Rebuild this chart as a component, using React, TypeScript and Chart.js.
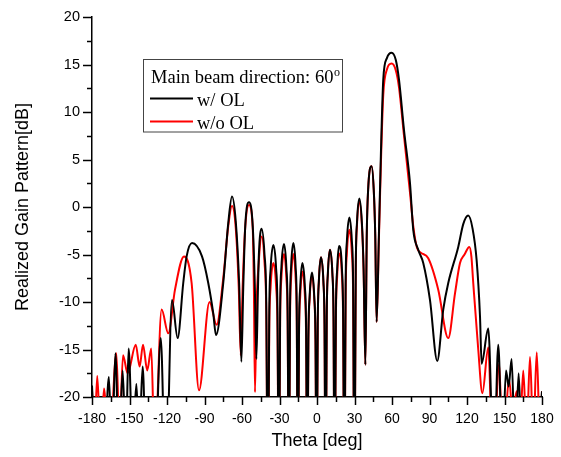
import React, { useEffect, useRef } from "react";
import { Chart, registerables } from "chart.js";

Chart.register(...registerables);

// Theta (deg) / realized gain (dB) samples
const withOL: [number, number][] = [
  [-180, -18.8], [-176.5, -28], [-170, -26], [-166.5, -17.9], [-164, -26], [-161.3, -15.4],
  [-158.5, -26], [-155.5, -17.2], [-153, -25], [-150.7, -14.9], [-147.5, -25], [-144.5, -18.6],
  [-142.3, -25], [-139.5, -16.8], [-136.5, -27], [-133, -21], [-130, -28], [-125, -13.8],
  [-121, -30], [-116, -9.8], [-111.5, -13.8], [-107, -8], [-104.3, -5.2], [-100, -3.8],
  [-92, -5.2], [-87, -8], [-83, -11.2], [-80.8, -13.5], [-75, -8], [-71, -1.7], [-68, 1.1],
  [-65, -1.5], [-62.3, -8], [-60.5, -16.3], [-59, -8.5], [-57.4, -2], [-54.4, 0.5], [-51.4, -2],
  [-49.8, -8], [-48.5, -16], [-47.3, -9], [-46.5, -5], [-44.3, -2.3], [-42, -5], [-40.6, -10],
  [-39.3, -32], [-38.2, -11], [-37.1, -6.5], [-34.9, -4.0], [-32.7, -6.5], [-31.6, -11],
  [-30.5, -32], [-29.5, -10.9], [-28.5, -6.4], [-26.4, -3.9], [-24.5, -6.4], [-23.5, -10.9],
  [-22.5, -32], [-21.6, -10.8], [-20.7, -6.3], [-18.9, -3.8], [-17.1, -6.3], [-16.2, -10.8],
  [-15.3, -32], [-14.4, -12.9], [-13.4, -8.4], [-11.7, -5.9], [-9.7, -8.4], [-8.7, -12.9],
  [-7.8, -32], [-6.9, -13.9], [-5.9, -9.4], [-4, -6.9], [-2.2, -9.4], [-1.2, -13.9],
  [-0.3, -32], [0.6, -12.3], [1.5, -7.8], [3.2, -5.3], [5.1, -7.8], [6.0, -12.3],
  [6.9, -32], [7.8, -11.5], [8.7, -7], [10.4, -4.5], [12.3, -7], [13.2, -11.5],
  [14.1, -32], [15.1, -11.1], [16.1, -6.6], [17.6, -4.1], [20.0, -6.6], [20.9, -11.1],
  [21.9, -32], [22.9, -8.1], [23.9, -3.6], [25.9, -1.1], [27.9, -3.6], [28.9, -8.1],
  [29.9, -32], [31, -6.5], [32, -1.6], [33.9, 0.9], [35.9, -1.6], [37.3, -6.5],
  [38.7, -16.6], [39.8, -3], [40.9, 1.8], [43.7, 4.3], [45.4, 1.8], [46.6, -3], [47.7, -12.1],
  [49.5, -3], [51, 5], [53, 13.4], [56, 15.7], [59.7, 16.25], [63, 15.5], [65.6, 13.4],
  [69.6, 8.1], [74.4, 2.5], [77, -2.4], [81, -4.5], [85, -5.9], [90.4, -9.8], [96.2, -16.2],
  [101, -10.8], [105, -8], [113, -4.2], [117, -1.8], [121, -0.9], [124.5, -2.3], [127.7, -5.6],
  [130.4, -11.5], [131.7, -16.5], [137, -12.8], [141.5, -28], [145, -14.5], [148.3, -26],
  [151.2, -17.2], [153.3, -18.9], [155.7, -16], [158.5, -26], [161.3, -17.5], [164, -26],
  [170, -24], [176, -27], [180, -19.4],
];

const withoutOL: [number, number][] = [
  [-180, -19.3], [-178, -24], [-175.8, -17.8], [-173, -25], [-170.4, -19.1], [-166.5, -27],
  [-160.5, -15.4], [-158, -24], [-155.2, -15.6], [-151.5, -17.5], [-145, -14.5], [-141.9, -16.8],
  [-139.2, -14.5], [-135.8, -17.2], [-132.6, -14.9], [-129.9, -26], [-124.3, -10.8], [-119, -13.3],
  [-113.6, -8.7], [-106.4, -5.2], [-100.3, -8], [-94.4, -19.3], [-86, -10], [-80.3, -12.4],
  [-75, -7.5], [-71, -2], [-68, 0.1], [-65, -2.2], [-62.6, -8.5], [-61, -15.6], [-59.5, -8.5],
  [-57.5, -2.3], [-54.4, 0.2], [-51.4, -2.3], [-50.5, -8.5], [-49.6, -19.5], [-48.5, -11],
  [-46.6, -5.8], [-44.3, -3.1], [-42, -5.8], [-40.6, -11],
  [-39.3, -32], [-38.2, -12.9], [-37.1, -8.4], [-34.9, -5.9], [-32.7, -8.4], [-31.6, -12.9],
  [-30.5, -32], [-29.5, -12], [-28.5, -7.5], [-26.4, -4.95], [-24.5, -7.5], [-23.5, -12],
  [-22.5, -32], [-21.6, -12], [-20.7, -7.5], [-18.9, -4.95], [-17.1, -7.5], [-16.2, -12],
  [-15.3, -32], [-14.4, -13.8], [-13.4, -9.3], [-11.7, -6.8], [-9.7, -9.3], [-8.7, -13.8],
  [-7.8, -32], [-6.9, -14.2], [-5.9, -9.7], [-4, -7.2], [-2.2, -9.7], [-1.2, -14.2],
  [-0.3, -32], [0.6, -12.3], [1.5, -7.8], [3.2, -5.3], [5.1, -7.8], [6.0, -12.3],
  [6.9, -32], [7.8, -11.5], [8.7, -7], [10.4, -4.5], [12.3, -7], [13.2, -11.5],
  [14.1, -32], [15.1, -11.9], [16.1, -7.4], [17.6, -4.9], [20.0, -7.4], [20.9, -11.9],
  [21.9, -32], [22.9, -9.4], [23.9, -4.9], [25.9, -2.4], [27.9, -4.9], [28.9, -9.4],
  [29.9, -32], [31, -6.8], [32, -1.9], [33.9, 0.6], [35.9, -1.9], [37.3, -6.8],
  [38.7, -16.6], [39.8, -3], [40.9, 1.8], [43.7, 4.3], [45.4, 1.8], [46.6, -3], [47.7, -12.1],
  [49.5, -3.5], [51, 4], [53, 11.8], [56, 14.5], [59.7, 15.1], [63, 14.4], [65.6, 12.6],
  [69.6, 7.5], [74.4, 1.5], [77, -2], [80, -4.3], [83, -4.8], [89, -5.4], [97, -8.7],
  [105, -13.8], [110.4, -9.1], [114.4, -5.9], [118, -5.0], [121.9, -4.2], [123.5, -5.2],
  [125, -8], [129, -15], [132.3, -19.6], [137, -14.8], [140.7, -27], [145.8, -16.5],
  [148.5, -26], [153.8, -18.2], [156.5, -22], [159.7, -19.4], [162.3, -24], [165, -17.2],
  [167.7, -24], [170.4, -15.8], [173, -24], [175.8, -15.3], [178.5, -25], [180, -19.4],
];

const seriesLabels = ["w/ OL", "w/o OL"];
const seriesColors = ["#000000", "#ff0000"];
const legendTitle = "Main beam direction: 60";
const legendSuperscript = "o";
const xTitle = "Theta [deg]";
const yTitle = "Realized Gain Pattern[dB]";
const xRange = [-180, 180];
const yRange = [-20, 20];

export default function App() {
  const ref = useRef<HTMLCanvasElement>(null);

  useEffect(() => {
    const canvas = ref.current;
    if (!canvas) return;

    const decor = {
      id: "decor",
      afterDraw(chart: any) {
        const ctx = chart.ctx as CanvasRenderingContext2D;
        const xs = chart.scales.x;
        const ys = chart.scales.y;
        const area = chart.chartArea;
        ctx.save();
        ctx.strokeStyle = "#000";
        ctx.lineWidth = 1.5;
        for (let v = xRange[0]; v <= xRange[1]; v += 15) {
          const px = Math.round(xs.getPixelForValue(v)) + 0.5;
          const len = v % 30 === 0 ? 8 : 5;
          ctx.beginPath();
          ctx.moveTo(px, area.bottom);
          ctx.lineTo(px, area.bottom + len);
          ctx.stroke();
        }
        for (let v = yRange[0]; v <= yRange[1]; v += 2.5) {
          const py = Math.round(ys.getPixelForValue(v)) + 0.5;
          const len = v % 5 === 0 ? 9 : 5;
          ctx.beginPath();
          ctx.moveTo(area.left, py);
          ctx.lineTo(area.left - len, py);
          ctx.stroke();
        }
        const bx = 143.5, by = 59.5, bw = 199, bh = 72.5;
        ctx.fillStyle = "#fff";
        ctx.fillRect(bx, by, bw, bh);
        ctx.strokeStyle = "#444";
        ctx.lineWidth = 1;
        ctx.strokeRect(bx, by, bw, bh);
        ctx.fillStyle = "#000";
        ctx.textBaseline = "alphabetic";
        ctx.textAlign = "left";
        ctx.font = '18.5px "Liberation Serif", "Times New Roman", serif';
        ctx.fillText(legendTitle, 151, 83);
        const tw = ctx.measureText(legendTitle).width;
        ctx.font = '12px "Liberation Serif", "Times New Roman", serif';
        ctx.fillText(legendSuperscript, 151 + tw + 0.5, 76);
        ctx.font = '18.5px "Liberation Serif", "Times New Roman", serif';
        const rows = [98.5, 121.5];
        rows.forEach((ry, i) => {
          ctx.strokeStyle = seriesColors[i];
          ctx.lineWidth = 2;
          ctx.beginPath();
          ctx.moveTo(150, ry);
          ctx.lineTo(193, ry);
          ctx.stroke();
          ctx.fillStyle = "#000";
          ctx.fillText(seriesLabels[i], 197, ry + 7.5);
        });
        ctx.restore();
      },
    };

    const mk = (pts: [number, number][]) => pts.map(([x, y]) => ({ x, y }));

    const chart = new Chart(canvas, {
      type: "line",
      data: {
        datasets: [
          {
            label: seriesLabels[0],
            data: mk(withOL),
            borderColor: seriesColors[0],
            borderWidth: 2,
            pointRadius: 0,
            cubicInterpolationMode: "monotone",
            clip: 0,
          },
          {
            label: seriesLabels[1],
            data: mk(withoutOL),
            borderColor: seriesColors[1],
            borderWidth: 2,
            pointRadius: 0,
            cubicInterpolationMode: "monotone",
            clip: 0,
          },
        ],
      },
      options: {
        responsive: false,
        animation: false,
        events: [],
        layout: { padding: { top: 17, right: 19, bottom: 0, left: 0 } },
        plugins: { legend: { display: false }, tooltip: { enabled: false } },
        scales: {
          x: {
            type: "linear",
            min: xRange[0],
            max: xRange[1],
            grid: { display: false },
            border: { display: true, color: "#000", width: 1.5 },
            ticks: {
              stepSize: 30,
              autoSkip: false,
              maxRotation: 0,
              padding: 6,
              color: "#000",
              font: { family: '"Liberation Sans", Arial, sans-serif', size: 14 },
            },
            title: {
              display: true,
              text: xTitle,
              color: "#000",
              padding: { top: 0, bottom: 5 },
              font: { family: '"Liberation Sans", Arial, sans-serif', size: 18 },
            },
            afterFit: (s: any) => { s.height = 60; },
          },
          y: {
            type: "linear",
            min: yRange[0],
            max: yRange[1],
            grid: { display: false },
            border: { display: true, color: "#000", width: 1.5 },
            ticks: {
              stepSize: 5,
              padding: 4,
              color: "#000",
              font: { family: '"Liberation Sans", Arial, sans-serif', size: 14.5 },
            },
            title: {
              display: true,
              text: yTitle,
              color: "#000",
              padding: { top: 12, bottom: 0 },
              font: { family: '"Liberation Sans", Arial, sans-serif', size: 18 },
            },
            afterFit: (s: any) => { s.width = 92; },
          },
        },
      },
      plugins: [decor],
    });

    return () => chart.destroy();
  }, []);

  return (
    <div style={{ position: "fixed", left: 0, top: 0, width: 561, height: 457, background: "#fff" }}>
      <canvas ref={ref} width={561} height={457} style={{ display: "block", width: 561, height: 457 }} />
    </div>
  );
}
